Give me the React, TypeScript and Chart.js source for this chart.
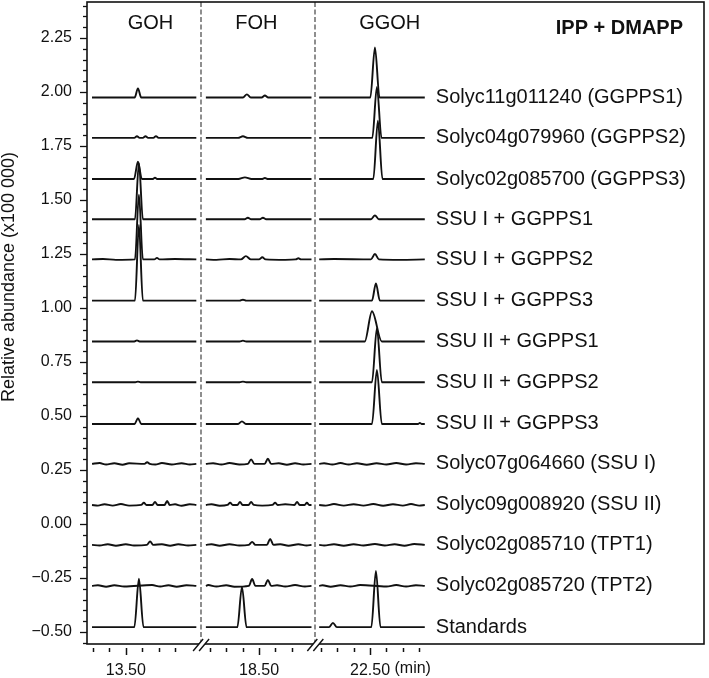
import { useEffect, useRef } from 'react';
import { Chart, registerables } from 'chart.js';

Chart.register(...registerables);

// ---- Panels of the broken retention-time axis ----
const panelNames = ['GOH', 'FOH', 'GGOH'];
const panelStart = [12.47, 16.88, 20.95];
const panelEnd = [15.65, 20.1, 24.17];
// layout only: shift from retention time to the shared axis coordinate
const panelShift = [12.317, 13.256, 13.872];
const X_MAX = 18.81;

const xTickTimes = [12.5, 13.0, 13.5, 14.0, 14.5, 15.0, 17.0, 17.5, 18.0, 18.5, 19.0, 19.5, 21.0, 21.5, 22.0, 22.5, 23.0, 23.5, 24.0];
const xLabeledTicks = [13.5, 18.5, 22.5];
const yMajorTicks = [-0.5, -0.25, 0, 0.25, 0.5, 0.75, 1.0, 1.25, 1.5, 1.75, 2.0, 2.25];
const Y_MIN = -0.556;
const Y_MAX = 2.417;

// ---- Traces ----
const traceLabels = [
  'Solyc11g011240 (GGPPS1)',
  'Solyc04g079960 (GGPPS2)',
  'Solyc02g085700 (GGPPS3)',
  'SSU I + GGPPS1',
  'SSU I + GGPPS2',
  'SSU I + GGPPS3',
  'SSU II + GGPPS1',
  'SSU II + GGPPS2',
  'SSU II + GGPPS3',
  'Solyc07g064660 (SSU I)',
  'Solyc09g008920 (SSU II)',
  'Solyc02g085710 (TPT1)',
  'Solyc02g085720 (TPT2)',
  'Standards',
];
const traceBaselines = [1.975, 1.788, 1.597, 1.411, 1.225, 1.034, 0.845, 0.656, 0.463, 0.278, 0.088, -0.097, -0.287, -0.478];

// peaks: [retention time (min), height above baseline, half-width left, half-width right]
const peaksGGPPS1 = [[13.87, 0.042, 0.1], [18.13, 0.014, 0.12], [18.68, 0.009, 0.1], [22.65, 0.232, 0.14]];
const peaksGGPPS2 = [[13.84, 0.007, 0.08], [14.1, 0.007, 0.08], [14.42, 0.008, 0.08], [18.01, 0.007, 0.15], [22.71, 0.236, 0.14]];
const peaksGGPPS3 = [[13.87, 0.08, 0.12], [14.39, 0.006, 0.08], [18.07, 0.008, 0.2], [18.68, 0.005, 0.1], [22.74, 0.27, 0.14]];
const peaksSSU1G1 = [[13.9, 0.26, 0.12], [18.16, 0.007, 0.1], [18.62, 0.007, 0.1], [22.65, 0.018, 0.12]];
const peaksSSU1G2 = [[13.9, 0.3, 0.12], [14.45, 0.007, 0.08], [18.1, 0.015, 0.15], [18.6, 0.01, 0.1], [19.7, 0.005, 0.08], [22.65, 0.025, 0.12]];
const peaksSSU1G3 = [[13.9, 0.35, 0.12], [18.01, 0.004, 0.1], [22.68, 0.08, 0.12]];
const peaksSSU2G1 = [[13.84, 0.005, 0.08], [18.01, 0.004, 0.1], [22.56, 0.14, 0.22, 0.3]];
const peaksSSU2G2 = [[13.87, 0.003, 0.08], [18.01, 0.003, 0.1], [22.71, 0.25, 0.15]];
const peaksSSU2G3 = [[13.87, 0.027, 0.1], [17.98, 0.012, 0.12], [22.71, 0.25, 0.15], [24.02, 0.005, 0.05]];
const peaksSSU1 = [[14.15, 0.008, 0.08], [18.26, 0.021, 0.1], [18.77, 0.024, 0.1]];
const peaksSSU2 = [[14.05, 0.01, 0.08], [14.39, 0.014, 0.08], [14.76, 0.018, 0.08], [17.62, 0.01, 0.08], [17.92, 0.014, 0.08], [18.26, 0.014, 0.08], [18.99, 0.01, 0.08], [19.66, 0.014, 0.08], [19.96, 0.01, 0.07]];
const peaksTPT1 = [[14.24, 0.016, 0.1], [18.29, 0.014, 0.1], [18.84, 0.028, 0.1]];
const peaksTPT2 = [[18.29, 0.032, 0.1], [18.77, 0.028, 0.1]];
const peaksStandards = [[13.9, 0.224, 0.14], [17.98, 0.186, 0.14], [21.37, 0.02, 0.12], [22.68, 0.26, 0.14]];

// baseline wiggle: [retention time (min), offset from baseline]
const noiseSSU1G2 = [[12.8, 0.002], [13.2, -0.002], [15.0, 0.002], [17.2, -0.002], [17.6, 0.002], [19.3, -0.002], [21.4, 0.002], [23.4, -0.002]];
const noiseSSU1 = [[12.7, 0.004], [12.9, -0.003], [13.15, 0.003], [13.4, -0.004], [13.6, 0.003], [14.4, -0.003], [14.6, 0.004], [14.9, -0.003], [15.2, 0.003], [15.45, -0.003], [17.1, 0.003], [17.35, -0.003], [17.6, 0.004], [17.9, -0.003], [19.1, 0.003], [19.35, -0.004], [19.6, 0.003], [19.85, -0.003], [21.1, 0.003], [21.35, -0.003], [21.6, 0.004], [21.85, -0.003], [22.1, 0.003], [22.4, -0.004], [22.7, 0.003], [23.0, -0.003], [23.3, 0.004], [23.6, -0.003], [23.9, 0.003]];
const noiseSSU2 = [[12.65, -0.003], [12.85, 0.003], [13.1, -0.003], [13.35, 0.004], [13.6, -0.003], [15.0, 0.003], [15.2, -0.004], [15.45, 0.003], [17.05, 0.003], [17.3, -0.004], [18.6, -0.003], [19.3, 0.003], [21.15, -0.003], [21.4, 0.004], [21.7, -0.003], [22.0, 0.003], [22.3, -0.003], [22.6, 0.004], [22.9, -0.004], [23.2, 0.003], [23.5, -0.003], [23.75, 0.004], [24.0, -0.003]];
const noiseTPT1 = [[12.7, -0.003], [12.95, 0.003], [13.2, -0.004], [13.5, 0.003], [13.75, -0.003], [14.6, 0.003], [14.85, -0.004], [15.1, 0.003], [15.4, -0.003], [17.05, 0.003], [17.3, -0.004], [17.6, 0.003], [17.9, -0.003], [19.15, 0.003], [19.4, -0.004], [19.7, 0.003], [19.95, -0.003], [21.1, -0.003], [21.4, 0.003], [21.7, -0.004], [22.0, 0.003], [22.3, -0.003], [22.65, 0.004], [22.95, -0.003], [23.25, 0.003], [23.55, -0.004], [23.85, 0.004]];
const noiseTPT2 = [[12.65, 0.003], [12.9, -0.004], [13.15, 0.003], [13.45, -0.003], [14.3, 0.004], [14.55, -0.003], [14.8, 0.003], [15.05, -0.004], [15.35, 0.003], [16.95, 0.004], [17.2, -0.003], [17.5, 0.003], [17.75, -0.004], [19.05, 0.003], [19.3, -0.003], [19.6, 0.004], [19.9, -0.003], [21.05, 0.003], [21.3, -0.004], [21.6, 0.003], [21.9, -0.003], [22.2, 0.004], [23.0, -0.003], [23.3, 0.004], [23.6, -0.003], [23.9, 0.003]];
const noiseNone: number[][] = [];

const tracePeaks = [
  peaksGGPPS1, peaksGGPPS2, peaksGGPPS3, peaksSSU1G1, peaksSSU1G2, peaksSSU1G3,
  peaksSSU2G1, peaksSSU2G2, peaksSSU2G3, peaksSSU1, peaksSSU2, peaksTPT1, peaksTPT2, peaksStandards,
];
const traceNoise = [
  noiseNone, noiseNone, noiseNone, noiseNone, noiseSSU1G2, noiseNone,
  noiseNone, noiseNone, noiseNone, noiseSSU1, noiseSSU2, noiseTPT1, noiseTPT2, noiseNone,
];

const FONT = "'Liberation Sans', Arial, Helvetica, sans-serif";

function panelOf(t: number) {
  for (let i = 0; i < panelStart.length; i++) {
    if (t >= panelStart[i] - 0.01 && t <= panelEnd[i] + 0.01) return i;
  }
  return -1;
}
function toAxis(t: number) {
  const p = panelOf(t);
  return t - panelShift[p];
}

function buildPoints(base: number, peaks: number[][], noise: number[][]) {
  const pts: { x: number; y: number | null }[] = [];
  for (let i = 0; i < panelStart.length; i++) {
    const sh = panelShift[i];
    const inPanel = (t: number) => t > panelStart[i] && t < panelEnd[i];
    const list = peaks.filter((k) => inPanel(k[0]));
    const ranges = list.map((pk) => [pk[0] - pk[2] - 0.04, pk[0] + (pk.length > 3 ? pk[3] : pk[2]) + 0.04]);
    const wig = noise.filter((n) => inPanel(n[0]) && !ranges.some((r) => n[0] > r[0] && n[0] < r[1]));
    const items: { t: number; pk?: number[]; n?: number[] }[] = [
      ...list.map((pk) => ({ t: pk[0], pk })),
      ...wig.map((n) => ({ t: n[0], n })),
    ].sort((a, b) => a.t - b.t);
    pts.push({ x: panelStart[i] - sh, y: base });
    for (const it of items) {
      if (it.pk) {
        const [t, h, wl] = it.pk;
        const wr = it.pk.length > 3 ? it.pk[3] : wl;
        pts.push({ x: t - wl - sh, y: base });
        pts.push({ x: t - sh, y: base + h });
        pts.push({ x: t + wr - sh, y: base });
      } else if (it.n) {
        pts.push({ x: it.n[0] - sh, y: base + it.n[1] });
      }
    }
    pts.push({ x: panelEnd[i] - sh, y: base });
    if (i < panelStart.length - 1) pts.push({ x: panelEnd[i] - sh + 0.05, y: null });
  }
  return pts;
}

const yTickValues: number[] = [];
for (let k = -11; k <= 48; k++) yTickValues.push(Math.round(k * 5) / 100);

const fmtY = (v: number) => (v < 0 ? '\u2212' : '') + Math.abs(v).toFixed(2);
const isMajorY = (v: number) => yMajorTicks.some((m) => Math.abs(m - v) < 1e-6);
const isLabeledX = (t: number) => xLabeledTicks.some((m) => Math.abs(m - t) < 1e-6);

const decorPlugin = {
  id: 'decor',
  beforeDatasetsDraw(chart: any) {
    const { ctx, chartArea: a, scales } = chart;
    const x = scales.x;
    ctx.save();
    ctx.strokeStyle = '#8e8e8e';
    ctx.lineWidth = 2;
    ctx.setLineDash([5, 2.5]);
    for (let i = 0; i < panelStart.length - 1; i++) {
      const u = (panelEnd[i] - panelShift[i] + panelStart[i + 1] - panelShift[i + 1]) / 2;
      const px = Math.round(x.getPixelForValue(u));
      ctx.beginPath();
      ctx.moveTo(px, a.top);
      ctx.lineTo(px, a.bottom);
      ctx.stroke();
    }
    ctx.restore();
  },
  afterDraw(chart: any) {
    const { ctx, chartArea: a, scales } = chart;
    const x = scales.x;
    const y = scales.y;
    ctx.save();
    // frame
    ctx.strokeStyle = '#111';
    ctx.lineWidth = 1.6;
    ctx.strokeRect(a.left, a.top, a.right - a.left, a.bottom - a.top);

    // y ticks
    ctx.lineWidth = 1.3;
    for (const v of yTickValues) {
      const py = Math.round(y.getPixelForValue(v)) + 0.5;
      const len = isMajorY(v) ? 7 : 4;
      ctx.beginPath();
      ctx.moveTo(a.left, py);
      ctx.lineTo(a.left - len, py);
      ctx.stroke();
    }
    // x ticks
    ctx.lineWidth = 1.5;
    for (const t of xTickTimes) {
      const px = Math.round(x.getPixelForValue(toAxis(t))) + 0.5;
      const len = isLabeledX(t) ? 7 : 4;
      ctx.beginPath();
      ctx.moveTo(px, a.bottom + 4);
      ctx.lineTo(px, a.bottom + 4 + len);
      ctx.stroke();
    }
    // "(min)" after the last labeled tick
    ctx.font = `16px ${FONT}`;
    ctx.fillStyle = '#111';
    ctx.textBaseline = 'middle';
    ctx.textAlign = 'left';
    const lastT = xLabeledTicks[xLabeledTicks.length - 1];
    const lastPx = x.getPixelForValue(toAxis(lastT));
    const w = ctx.measureText(lastT.toFixed(2)).width;
    ctx.fillText(' (min)', lastPx + w / 2, a.bottom + 25);

    // axis break marks
    for (let i = 0; i < panelStart.length - 1; i++) {
      const u = (panelEnd[i] - panelShift[i] + panelStart[i + 1] - panelShift[i + 1]) / 2;
      const cx = x.getPixelForValue(u);
      const cy = a.bottom + 1;
      ctx.fillStyle = '#fff';
      ctx.beginPath();
      ctx.moveTo(cx - 8, cy + 6);
      ctx.lineTo(cx + 2, cy - 6);
      ctx.lineTo(cx + 8, cy - 6);
      ctx.lineTo(cx - 2, cy + 6);
      ctx.closePath();
      ctx.fill();
      ctx.strokeStyle = '#111';
      ctx.lineWidth = 1.4;
      ctx.beginPath();
      ctx.moveTo(cx - 8, cy + 6);
      ctx.lineTo(cx + 2, cy - 6);
      ctx.moveTo(cx - 2, cy + 6);
      ctx.lineTo(cx + 8, cy - 6);
      ctx.stroke();
    }

    // panel headers
    const headerTimes = [14.25, 18.42, 23.1];
    ctx.fillStyle = '#111';
    ctx.font = `20px ${FONT}`;
    ctx.textAlign = 'center';
    ctx.textBaseline = 'middle';
    panelNames.forEach((n, i) => {
      ctx.fillText(n, x.getPixelForValue(headerTimes[i] - panelShift[i]), a.top + 21);
    });
    ctx.font = `bold 20px ${FONT}`;
    ctx.textAlign = 'right';
    ctx.fillText('IPP + DMAPP', a.right - 21, a.top + 26);

    // trace labels
    ctx.font = `20px ${FONT}`;
    ctx.textAlign = 'left';
    const lx = x.getPixelForValue(panelEnd[2] - panelShift[2]) + 11;
    traceLabels.forEach((lab, i) => {
      ctx.fillText(lab, lx, y.getPixelForValue(traceBaselines[i]));
    });

    // y axis title
    ctx.save();
    ctx.translate(9, 277);
    ctx.rotate(-Math.PI / 2);
    ctx.font = `18px ${FONT}`;
    ctx.textAlign = 'center';
    ctx.textBaseline = 'middle';
    ctx.fillText('Relative abundance (x100 000)', 0, 0);
    ctx.restore();

    ctx.restore();
  },
};

export default function App() {
  const ref = useRef<HTMLCanvasElement | null>(null);
  useEffect(() => {
    if (!ref.current) return;
    const datasets = traceLabels.map((lab, i) => ({
      label: lab,
      data: buildPoints(traceBaselines[i], tracePeaks[i], traceNoise[i]),
      borderColor: '#111',
      borderWidth: 1.9,
      pointRadius: 0,
      fill: false,
      spanGaps: false,
      cubicInterpolationMode: 'monotone' as const,
    }));
    const chart = new Chart(ref.current, {
      type: 'line',
      data: { datasets },
      plugins: [decorPlugin],
      options: {
        animation: false,
        responsive: false,
        maintainAspectRatio: false,
        parsing: false,
        normalized: true,
        events: [],
        layout: { padding: { left: 0, top: 2, right: 5, bottom: 0 } },
        plugins: { legend: { display: false }, tooltip: { enabled: false } },
        scales: {
          x: {
            type: 'linear',
            min: 0,
            max: X_MAX,
            grid: { display: false, drawTicks: true, tickLength: 8 },
            border: { display: false },
            afterBuildTicks: (scale: any) => {
              scale.ticks = xTickTimes.map((t) => ({ value: toAxis(t) }));
            },
            afterFit: (scale: any) => {
              scale.height = 34;
              scale.paddingLeft = 0;
              scale.paddingRight = 0;
            },
            ticks: {
              autoSkip: false,
              maxRotation: 0,
              padding: 9,
              color: '#111',
              font: { family: FONT, size: 16 },
              callback: (_v: any, idx: number) => (isLabeledX(xTickTimes[idx]) ? xTickTimes[idx].toFixed(2) : ''),
            },
          },
          y: {
            type: 'linear',
            min: Y_MIN,
            max: Y_MAX,
            grid: { display: false, drawTicks: true, tickLength: 8 },
            border: { display: false },
            afterBuildTicks: (scale: any) => {
              scale.ticks = yTickValues.map((v) => ({ value: v }));
            },
            afterFit: (scale: any) => {
              scale.width = 87;
              scale.paddingTop = 0;
              scale.paddingBottom = 0;
            },
            ticks: {
              autoSkip: false,
              padding: 7,
              color: '#111',
              font: { family: FONT, size: 16 },
              callback: (v: any) => (isMajorY(Number(v)) ? fmtY(Number(v)) : ''),
            },
          },
        },
      },
    });
    return () => chart.destroy();
  }, []);
  return (
    <div style={{ position: 'absolute', left: 0, top: 0, width: 709, height: 678 }}>
      <canvas ref={ref} width={709} height={678} style={{ width: 709, height: 678, display: 'block' }} />
    </div>
  );
}
